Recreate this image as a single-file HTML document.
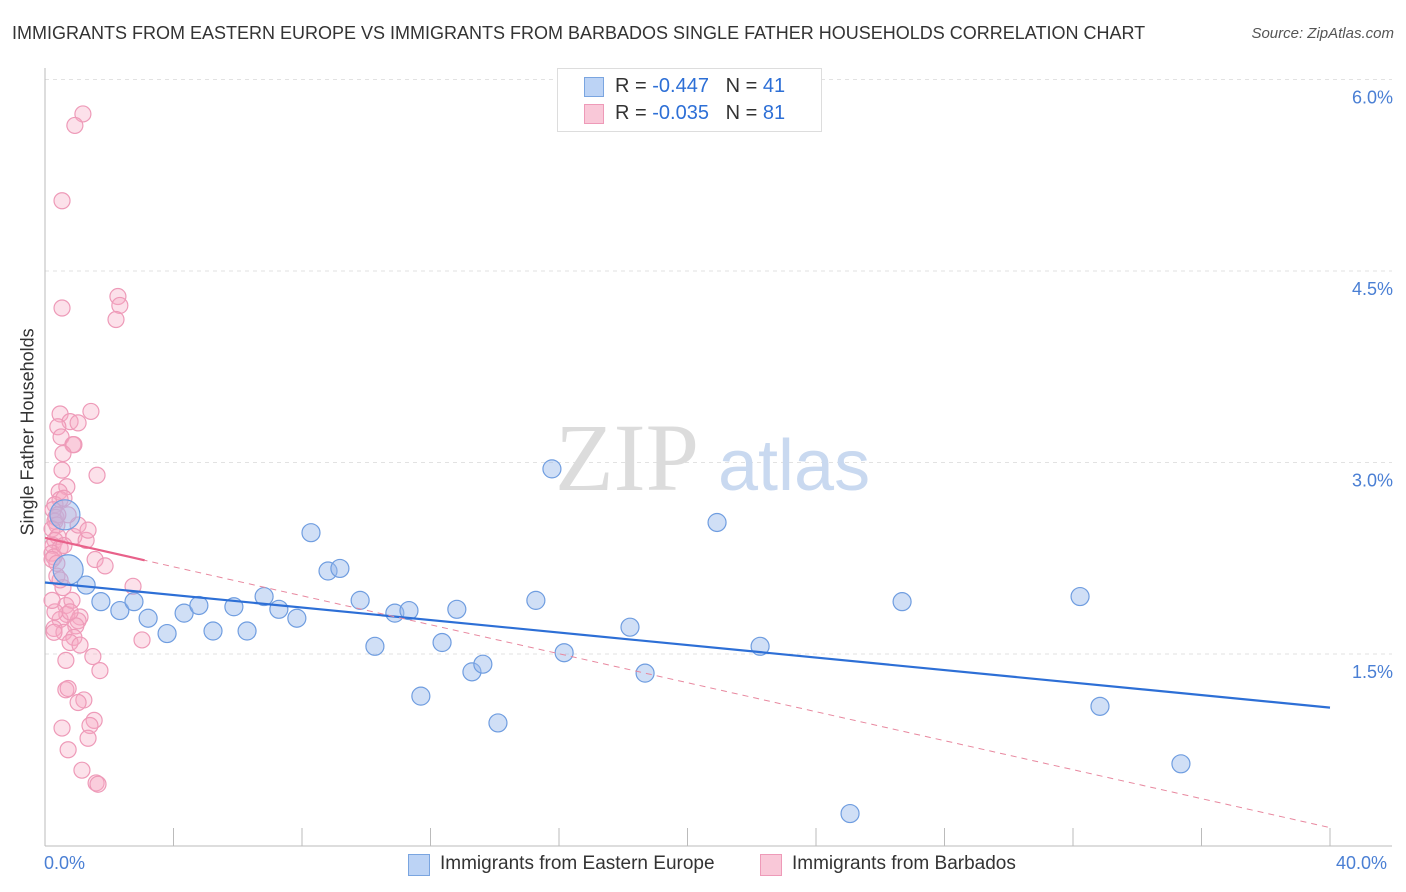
<!DOCTYPE html>
<html><head><meta charset="utf-8">
<style>
body{margin:0;background:#fff;font-family:"Liberation Sans",sans-serif;}
#wrap{position:relative;width:1406px;height:892px;overflow:hidden;}
.t{position:absolute;white-space:nowrap;}
</style></head>
<body>
<div id="wrap">
<div class="t" style="left:12px;top:23px;font-size:18px;color:#333;">IMMIGRANTS FROM EASTERN EUROPE VS IMMIGRANTS FROM BARBADOS SINGLE FATHER HOUSEHOLDS CORRELATION CHART</div>
<div class="t" style="right:12px;top:25px;font-size:15px;color:#555;font-style:italic;">Source: ZipAtlas.com</div>
<svg id="svg" width="1406" height="892" style="position:absolute;left:0;top:0"></svg>
</div>
<script>
const yTicks=[1.5,3.0,4.5,6.0];
const yTickLabels=["1.5%","3.0%","4.5%","6.0%"];
const xTicks=[0,4,8,12,16,20,24,28,32,36,40];
const blueX=[0.62,0.72,1.28,1.74,2.33,2.77,3.21,3.80,4.33,4.79,5.23,5.88,6.29,6.82,7.28,7.84,8.28,8.81,9.18,9.81,10.27,10.89,11.33,11.70,12.36,12.82,13.29,13.63,14.10,15.28,15.78,16.16,18.21,18.68,20.92,22.26,25.06,26.68,32.22,32.84,35.36];
const blueY=[2.59,2.16,2.04,1.91,1.84,1.91,1.78,1.66,1.82,1.88,1.68,1.87,1.68,1.95,1.85,1.78,2.45,2.15,2.17,1.92,1.56,1.82,1.84,1.17,1.59,1.85,1.36,1.42,0.96,1.92,2.95,1.51,1.71,1.35,2.53,1.56,0.25,1.91,1.95,1.09,0.64];
const blueBig=[1,1];
const pinkX=[1.18,0.93,0.53,2.27,2.33,2.21,0.53,1.43,0.47,0.78,1.03,0.40,0.50,0.87,0.90,0.56,1.62,0.68,0.44,0.47,0.31,0.25,0.34,0.31,0.37,0.22,0.40,0.90,1.28,0.31,0.25,0.47,0.22,0.28,1.56,1.87,0.37,2.74,0.56,0.65,0.68,1.09,1.03,0.47,0.28,0.96,0.59,0.90,0.78,1.09,1.49,1.71,0.65,0.72,1.21,1.03,1.53,1.40,0.53,1.34,0.72,1.15,1.59,1.65,3.02,0.31,0.47,1.03,0.59,0.22,0.37,1.34,0.72,0.53,0.40,0.84,0.28,0.78,0.59,0.22,0.65];
const pinkY=[5.73,5.64,5.05,4.30,4.23,4.12,4.21,3.40,3.38,3.32,3.31,3.28,3.20,3.14,3.14,3.07,2.90,2.81,2.77,2.71,2.67,2.63,2.57,2.54,2.51,2.48,2.42,2.42,2.39,2.39,2.35,2.33,2.29,2.26,2.24,2.19,2.11,2.03,2.02,1.88,1.81,1.79,1.76,1.77,1.70,1.72,1.67,1.63,1.59,1.57,1.48,1.37,1.22,1.23,1.14,1.12,0.98,0.94,0.92,0.84,0.75,0.59,0.49,0.48,1.61,1.83,2.08,2.51,2.72,2.24,2.21,2.47,2.59,2.94,2.59,1.92,1.67,1.83,2.35,1.92,1.45];
const blueTrend=[2.06,1.08];
const pinkTrend=[2.41,0.14];
const pinkSolidEnd=3.1;

const NS="http://www.w3.org/2000/svg";
const svg=document.getElementById('svg');
const xs=v=>45+v*32.125;
const ys=v=>845.5-v*127.67;
function el(tag,attrs,parent){const e=document.createElementNS(NS,tag);for(const k in attrs)e.setAttribute(k,attrs[k]);(parent||svg).appendChild(e);return e;}
// grid
yTicks.forEach((t,i)=>{
 const g=el('line',{x1:45,x2:1392,y1:ys(t),y2:ys(t),stroke:'#e2e2e2','stroke-dasharray':'4,4'});
 
 
 const tx=el('text',{x:1393,y:ys(t)+24,'text-anchor':'end','font-size':18,fill:'#4a7fd4','font-family':'Liberation Sans'});
 tx.textContent=yTickLabels[i];
 
 
});
// axes
const ya=el('line',{x1:45,x2:45,y1:68,y2:846,stroke:'#bbb'});


const xa=el('line',{x1:45,x2:1392,y1:846,y2:846,stroke:'#bbb'});


xTicks.forEach(t=>{const l=el('line',{x1:xs(t),x2:xs(t),y1:828,y2:846,stroke:'#bbb'});
 
 });
// watermark
const wm=el('text',{x:555,y:490,'font-size':96,fill:'#dcdcdc','font-family':'Liberation Serif'});wm.textContent='ZIP';


const wm2=el('text',{x:718,y:490,'font-size':72,fill:'#c9d9f0','font-family':'Liberation Sans'});wm2.textContent='atlas';


// points
pinkX.forEach((x,i)=>{const c=el('circle',{cx:xs(x),cy:ys(pinkY[i]),r:8,fill:'rgba(246,170,196,0.35)',stroke:'#ee9ab8','stroke-width':1.2});
 
 });
blueX.forEach((x,i)=>{const c=el('circle',{cx:xs(x),cy:ys(blueY[i]),r:(blueBig[i]?15:9),fill:'rgba(150,185,235,0.45)',stroke:'#6f9de0','stroke-width':1.2});
 
 });
// trends
const bt=el('line',{x1:xs(0),y1:ys(blueTrend[0]),x2:xs(40),y2:ys(blueTrend[1]),stroke:'#2d6fd6','stroke-width':2.2});


const pd=el('line',{x1:xs(0),y1:ys(pinkTrend[0]),x2:xs(40),y2:ys(pinkTrend[1]),stroke:'#e8889f','stroke-width':1,'stroke-dasharray':'6,5'});


const pe=pinkTrend[0]+(pinkTrend[1]-pinkTrend[0])*pinkSolidEnd/40;
const ps=el('line',{x1:xs(0),y1:ys(pinkTrend[0]),x2:xs(pinkSolidEnd),y2:ys(pe),stroke:'#e8618a','stroke-width':2.2});


</script>
<div class="t" style="left:-52px;top:445px;transform:rotate(-90deg);font-size:18px;color:#333;width:160px;text-align:center;">Single Father Households</div>
<div class="t" style="left:44px;top:853px;font-size:18px;color:#4a7fd4;">0.0%</div>
<div class="t" style="left:1336px;top:853px;font-size:18px;color:#4a7fd4;">40.0%</div>
<div style="position:absolute;left:557px;top:68px;width:263px;height:62px;border:1px solid #ddd;background:#fff;font-size:20px;color:#333;">
 <div style="position:absolute;left:26px;top:8px;width:18px;height:18px;background:#bcd3f5;border:1px solid #7aa5e0;"></div>
 <div class="t" style="left:57px;top:6px;">R = <span style="color:#2d6fd6">-0.447</span> &nbsp; N = <span style="color:#2d6fd6">41</span></div>
 <div style="position:absolute;left:26px;top:35px;width:18px;height:18px;background:#f9c8d8;border:1px solid #ee9ab8;"></div>
 <div class="t" style="left:57px;top:33px;">R = <span style="color:#2d6fd6">-0.035</span> &nbsp; N = <span style="color:#2d6fd6">81</span></div>
</div>
<div style="position:absolute;left:408px;top:853px;font-size:19px;color:#333;">
 <div style="position:absolute;left:0;top:1px;width:20px;height:20px;background:#bcd3f5;border:1px solid #7aa5e0;"></div>
 <div class="t" style="left:32px;top:0;">Immigrants from Eastern Europe</div>
 <div style="position:absolute;left:352px;top:1px;width:20px;height:20px;background:#f9c8d8;border:1px solid #ee9ab8;"></div>
 <div class="t" style="left:384px;top:0;">Immigrants from Barbados</div>
</div>
</body></html>
